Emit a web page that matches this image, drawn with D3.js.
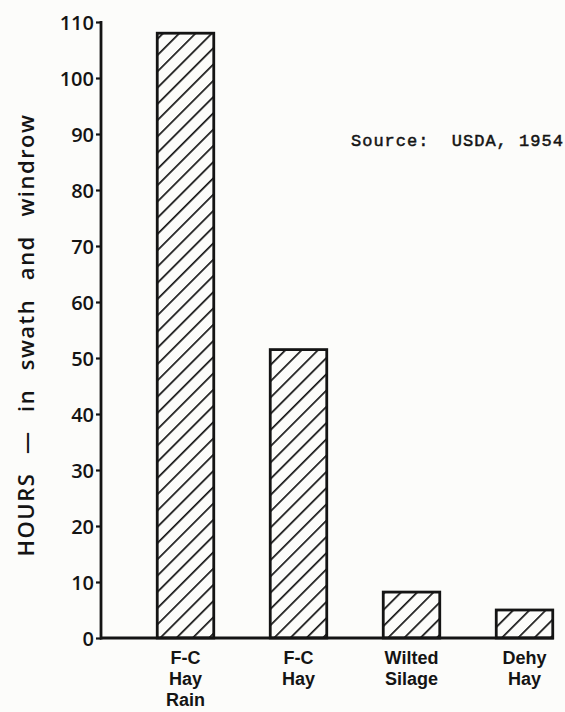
<!DOCTYPE html>
<html><head><meta charset="utf-8">
<script src="https://cdn.jsdelivr.net/npm/d3@7"></script>
<style>
html,body{margin:0;padding:0;background:#fcfcfa;}
svg{display:block;}
</style></head>
<body>
<script>
const categories = [["F-C","Hay","Rain"],["F-C","Hay"],["Wilted","Silage"],["Dehy","Hay"]];
const values = [108, 51.5, 8.2, 5.0];
const tickValues = [0,10,20,30,40,50,60,70,80,90,100,110];
const yTitle = "HOURS \u2014 in swath and windrow";
const sourceText = "Source:  USDA, 1954";

const W = 565, H = 712;
const ink = "#141414";
const font = "'Open Sans', 'DejaVu Sans', sans-serif";
const svg = d3.select("body").append("svg").attr("width", W).attr("height", H);
svg.append("rect").attr("width", W).attr("height", H).attr("fill", "#fcfcfa");

const defs = svg.append("defs");
const pat = defs.append("pattern").attr("id","hatch").attr("patternUnits","userSpaceOnUse")
  .attr("width", 11.5).attr("height", 11.5).attr("patternTransform","rotate(45)");
pat.append("rect").attr("width",11.5).attr("height",11.5).attr("fill","#fcfcfa");
pat.append("line").attr("x1",0).attr("y1",0).attr("x2",0).attr("y2",11.5)
  .attr("stroke", ink).attr("stroke-width", 3.4);

const idx = d3.range(values.length);
const x = d3.scaleBand().domain(idx).range([129, 581]).paddingInner(0.5).paddingOuter(0.25);
const y = d3.scaleLinear().domain([0, 110]).range([638, 22]);

// bars
svg.append("g").selectAll("rect").data(idx).join("rect")
  .attr("x", i => x(i)).attr("y", i => y(values[i]))
  .attr("width", x.bandwidth()).attr("height", i => y(0) - y(values[i]))
  .attr("fill", "url(#hatch)").attr("stroke", ink).attr("stroke-width", 2.8);

// y axis
const yAxis = d3.axisLeft(y).tickValues(tickValues).tickSize(5).tickPadding(2).tickFormat(d3.format("d"));
const gy = svg.append("g").attr("transform", "translate(101,0)").call(yAxis);
gy.select(".domain").remove();
gy.selectAll(".tick line").attr("stroke", ink).attr("stroke-width", 2.2);
gy.selectAll(".tick text").attr("fill", ink).attr("font-family", font).attr("font-weight", 600)
  .attr("font-size", 20).attr("dy", "0.36em");
svg.append("line").attr("x1",101).attr("x2",101).attr("y1",y(110)-1).attr("y2",y(0)+1.5)
  .attr("stroke", ink).attr("stroke-width", 2.8);

// x axis baseline
svg.append("line").attr("x1",100).attr("x2",x(idx.length-1)+x.bandwidth()+1).attr("y1",y(0)).attr("y2",y(0))
  .attr("stroke", ink).attr("stroke-width", 2.8);

// category labels
const lab = svg.append("g").selectAll("text").data(idx).join("text")
  .attr("text-anchor","middle").attr("fill", ink)
  .attr("font-family", "'Liberation Sans', Arial, sans-serif").attr("font-weight", 700).attr("font-size", 18);
lab.each(function(i){
  const t = d3.select(this);
  categories[i].forEach((s, k) => {
    t.append("tspan").attr("x", x(i) + x.bandwidth()/2).attr("y", 664 + k*21).text(s);
  });
});

// y title, stretched by word spacing to span the same length as the original
const yt = svg.append("text").attr("transform", "translate(34,335) rotate(-90)")
  .attr("text-anchor","middle").attr("fill", ink)
  .attr("font-family", font).attr("font-weight", 600).attr("font-size", 22)
  .attr("letter-spacing", 1.5)
  .text(yTitle);
const natural = yt.node().getComputedTextLength();
const gaps = yTitle.split(" ").length - 1;
yt.attr("word-spacing", Math.max(0, (443 - natural) / gaps));

// source
svg.append("text").attr("x", 351).attr("y", 146).attr("fill", ink)
  .attr("font-family","'Liberation Mono', monospace").attr("font-size", 17)
  .attr("stroke", ink).attr("stroke-width", 0.5)
  .attr("letter-spacing", 1).attr("xml:space","preserve").style("white-space","pre")
  .text(sourceText);
</script>
</body></html>
